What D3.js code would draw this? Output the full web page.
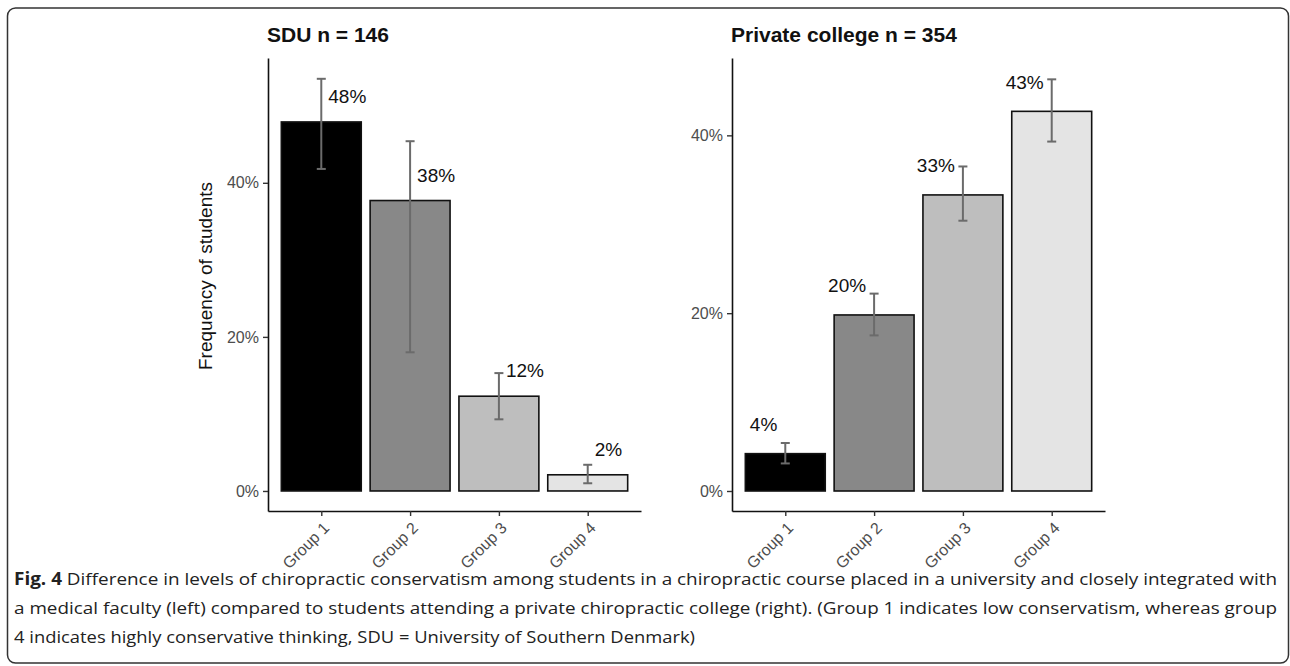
<!DOCTYPE html>
<html>
<head>
<meta charset="utf-8">
<script src="https://cdn.jsdelivr.net/npm/d3@7"></script>
<style>
  body { margin: 0; background: #fff; }
  svg { display: block; }
</style>
</head>
<body>
<div id="chart"></div>
<script>
var groups = ['Group 1', 'Group 2', 'Group 3', 'Group 4'];
var fills = ['#000000', '#888888', '#bebebe', '#e4e4e4'];

// SDU panel (percent)
var sduValues = [47.9, 37.7, 12.3, 2.1];
var sduLower = [41.8, 18.0, 9.3, 1.0];
var sduUpper = [53.5, 45.4, 15.3, 3.4];
var sduLabels = ['48%', '38%', '12%', '2%'];

// Private college panel (percent)
var pcValues = [4.2, 19.8, 33.3, 42.7];
var pcLower = [3.1, 17.5, 30.4, 39.3];
var pcUpper = [5.4, 22.2, 36.5, 46.3];
var pcLabels = ['4%', '20%', '33%', '43%'];

var tickValues = [0, 20, 40];

var width = 1290;
var height = 666;

var svg = d3.select('#chart')
    .append('svg')
    .attr('width', width)
    .attr('height', height);

svg.append('rect')
    .attr('width', width)
    .attr('height', height)
    .attr('fill', '#fff');

// frame round the figure
svg.append('rect')
    .attr('x', 7.5)
    .attr('y', 8)
    .attr('width', 1281)
    .attr('height', 655)
    .attr('rx', 8)
    .attr('fill', 'none')
    .attr('stroke', '#333')
    .attr('stroke-width', 1.5);

var panels = [
  {title: 'SDU n = 146', values: sduValues, lower: sduLower, upper: sduUpper,
    labels: sduLabels, x0: 268, x1: 641, domain: [-2.6, 56.2], labelSide: 'right'},
  {title: 'Private college n = 354', values: pcValues, lower: pcLower, upper: pcUpper,
    labels: pcLabels, x0: 732, x1: 1105, domain: [-2.25, 48.7], labelSide: 'left'},
];

var plotTop = 58;
var plotBottom = 511;

panels.forEach(function(p) {
  var g = svg.append('g');

  var scaleX = d3.scalePoint()
      .domain(groups)
      .range([p.x0, p.x1])
      .padding(0.6);
  var barW = scaleX.step() * 0.9;

  var scaleY = d3.scaleLinear()
      .domain(p.domain)
      .range([plotBottom, plotTop]);

  // bars
  g.selectAll('rect.bar')
      .data(p.values)
      .enter()
      .append('rect')
      .attr('class', 'bar')
      .attr('x', function(d, i) { return scaleX(groups[i]) - barW / 2; })
      .attr('y', function(d) { return scaleY(d); })
      .attr('width', barW)
      .attr('height', function(d) { return scaleY(0) - scaleY(d); })
      .attr('fill', function(d, i) { return fills[i]; })
      .attr('stroke', '#111')
      .attr('stroke-width', 1.6);

  // error bars
  var eb = g.selectAll('g.err')
      .data(p.values)
      .enter()
      .append('g')
      .attr('stroke', '#6b6b6b')
      .attr('stroke-width', 2);
  eb.append('line')
      .attr('x1', function(d, i) { return scaleX(groups[i]); })
      .attr('x2', function(d, i) { return scaleX(groups[i]); })
      .attr('y1', function(d, i) { return scaleY(p.lower[i]); })
      .attr('y2', function(d, i) { return scaleY(p.upper[i]); });
  [p.lower, p.upper].forEach(function(arr) {
    eb.append('line')
        .attr('x1', function(d, i) { return scaleX(groups[i]) - 4.5; })
        .attr('x2', function(d, i) { return scaleX(groups[i]) + 4.5; })
        .attr('y1', function(d, i) { return scaleY(arr[i]); })
        .attr('y2', function(d, i) { return scaleY(arr[i]); });
  });

  // value labels
  g.selectAll('text.val')
      .data(p.values)
      .enter()
      .append('text')
      .attr('class', 'val')
      .text(function(d, i) { return p.labels[i]; })
      .attr('x', function(d, i) {
        return scaleX(groups[i]) + (p.labelSide === 'right' ? 7 : -8);
      })
      .attr('y', function(d) { return scaleY(d + 3.3); })
      .attr('dy', '0.35em')
      .attr('text-anchor', p.labelSide === 'right' ? 'start' : 'end')
      .attr('font-family', 'Liberation Sans, Arial, sans-serif')
      .attr('font-size', 19)
      .attr('fill', '#111');

  // y axis
  var yAxis = g.append('g')
      .attr('transform', 'translate(' + p.x0 + ',0)')
      .call(d3.axisLeft(scaleY)
          .tickValues(tickValues)
          .tickFormat(function(d) { return d + '%'; })
          .tickSize(5)
          .tickSizeOuter(0)
          .tickPadding(4));

  // x axis
  var xAxis = g.append('g')
      .attr('transform', 'translate(0,' + plotBottom + ')')
      .call(d3.axisBottom(scaleX)
          .tickSize(5)
          .tickSizeOuter(0)
          .tickFormat(''));

  [yAxis, xAxis].forEach(function(ax) {
    ax.select('.domain').attr('stroke', '#111').attr('stroke-width', 1.6);
    ax.selectAll('.tick line').attr('stroke', '#333').attr('stroke-width', 1.4);
  });
  yAxis.selectAll('text')
      .attr('font-family', 'Liberation Sans, Arial, sans-serif')
      .attr('font-size', 16)
      .attr('fill', '#4d4d4d');

  // rotated group labels
  g.selectAll('text.grp')
      .data(groups)
      .enter()
      .append('text')
      .attr('class', 'grp')
      .text(function(d) { return d; })
      .attr('transform', function(d) {
        return 'translate(' + (scaleX(d) + 5) + ',' + (plotBottom + 14) + ') rotate(-45)';
      })
      .attr('text-anchor', 'end')
      .attr('dy', '0.35em')
      .attr('font-family', 'Liberation Sans, Arial, sans-serif')
      .attr('font-size', 16)
      .attr('fill', '#4d4d4d');

  // panel title
  svg.append('text')
      .text(p.title)
      .attr('x', p.x0 - 1)
      .attr('y', 42)
      .attr('font-family', 'Liberation Sans, Arial, sans-serif')
      .attr('font-weight', 'bold')
      .attr('font-size', 21)
      .attr('fill', '#111');
});

// y axis title, left panel only
svg.append('text')
    .text('Frequency of students')
    .attr('transform', 'translate(212,276) rotate(-90)')
    .attr('text-anchor', 'middle')
    .attr('font-family', 'Liberation Sans, Arial, sans-serif')
    .attr('font-size', 19)
    .attr('fill', '#111');

// caption
var captionLines = [
  {bold: 'Fig. 4', text: ' Difference in levels of chiropractic conservatism among students in a chiropractic course placed in a university and closely integrated with', len: 1263},
  {bold: '', text: 'a medical faculty (left) compared to students attending a private chiropractic college (right). (Group 1 indicates low conservatism, whereas group', len: 1263},
  {bold: '', text: '4 indicates highly conservative thinking, SDU = University of Southern Denmark)', len: 681},
];

captionLines.forEach(function(l, i) {
  var t = svg.append('text')
      .attr('x', 14)
      .attr('y', 585 + i * 29)
      .attr('textLength', l.len)
      .attr('lengthAdjust', 'spacingAndGlyphs')
      .attr('font-family', 'Open Sans, sans-serif')
      .attr('font-size', 17)
      .attr('fill', '#222');
  if (l.bold) {
    t.append('tspan').attr('font-weight', 'bold').text(l.bold);
  }
  t.append('tspan').text(l.text);
});
</script>
</body>
</html>
